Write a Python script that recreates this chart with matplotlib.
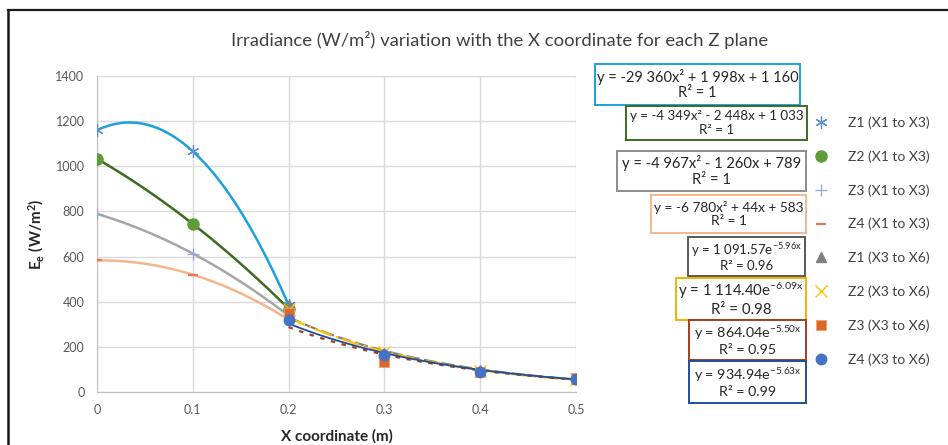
import numpy as np
import matplotlib
matplotlib.use("Agg")
import matplotlib.pyplot as plt
from matplotlib.lines import Line2D
from matplotlib.patches import Rectangle

plt.rcParams['font.family'] = ['Lato', 'DejaVu Sans']
plt.rcParams['mathtext.fontset'] = 'custom'
plt.rcParams['mathtext.rm'] = 'Lato'
plt.rcParams['mathtext.it'] = 'Lato'
plt.rcParams['mathtext.bf'] = 'Lato:bold'

# ---------------- data ----------------
x_a = [0.0, 0.1, 0.2]          # X1 to X3
x_b = [0.2, 0.3, 0.4, 0.5]     # X3 to X6

z1_a = [1160, 1066, 385]
z2_a = [1033, 745, 369]
z3_a = [789, 613, 338]
z4_a = [583, 520, 321]

z1_b = [385, 172, 96, 58]
z2_b = [369, 176, 93, 58]
z3_b = [352, 135, 88, 60]
z4_b = [320, 164, 88, 58]

labels = ['Z1 (X1 to X3)', 'Z2 (X1 to X3)', 'Z3 (X1 to X3)', 'Z4 (X1 to X3)',
          'Z1 (X3 to X6)', 'Z2 (X3 to X6)', 'Z3 (X3 to X6)', 'Z4 (X3 to X6)']

# trendline coefficients (as displayed)
poly_coef = [(-29360, 1998, 1160), (-4349, -2448, 1033),
             (-4967, -1260, 789), (-6780, 44, 583)]
exp_coef = [(1091.57, -5.96), (1114.40, -6.09), (864.04, -5.50), (934.94, -5.63)]

eq_texts = ['y = -29 360x² + 1 998x + 1 160\nR² = 1',
            'y = -4 349x² - 2 448x + 1 033\nR² = 1',
            'y = -4 967x² - 1 260x + 789\nR² = 1',
            'y = -6 780x² + 44x + 583\nR² = 1',
            'y = 1 091.57e$^{-5.96x}$\nR² = 0.96',
            'y = 1 114.40e$^{-6.09x}$\nR² = 0.98',
            'y = 864.04e$^{-5.50x}$\nR² = 0.95',
            'y = 934.94e$^{-5.63x}$\nR² = 0.99']

# ---------------- styles ----------------
W, H = 948, 445
fig = plt.figure(figsize=(W / 100, H / 100), dpi=100)
ax = fig.add_axes([97 / W, 1 - 392 / H, (576 - 97) / W, (392 - 76) / H])

poly_colors = ['#1aa1de', '#3d6b1f', '#a6a6a6', '#f4b58c']
exp_colors = ['#7f7f7f', '#ffc000', '#a33d1f', '#1f4e99']
exp_styles = [(0, (6, 2)), (0, (8, 2, 1, 2)), (0, (2, 3)), '-']
box_colors = ['#1aa1de', '#3d6b1f', '#8c8c8c', '#f4b58c',
              '#595959', '#f0b400', '#a33d1f', '#1f4e99']

# trendlines
xp = np.linspace(0, 0.2, 100)
for (a, b, c), col in zip(poly_coef, poly_colors):
    ax.plot(xp, a * xp**2 + b * xp + c, color=col, lw=1.8, zorder=3)
xe = np.linspace(0.2, 0.5, 100)
for (a, k), col, ls in zip(exp_coef, exp_colors, exp_styles):
    ax.plot(xe, a * np.exp(k * xe), color=col, lw=1.6 if ls != '-' else 1.3,
            ls=ls, zorder=3)

handles = []
handles.append(ax.plot(x_a, z1_a, ls='none', marker=(6, 2, 0), ms=9, mec='#5b8fd0', mew=0.9, zorder=4)[0])
handles.append(ax.plot(x_a, z2_a, ls='none', marker='o', ms=8, mfc='#5f9b3a', mec='#5f9b3a', zorder=4)[0])
handles.append(ax.plot(x_a, z3_a, ls='none', marker='+', ms=9, mec='#8ea8d8', mew=0.9, zorder=4)[0])
handles.append(ax.plot(x_a, z4_a, ls='none', marker='_', ms=7, mec='#e8745a', mew=1.6, zorder=4)[0])
handles.append(ax.plot(x_b, z1_b, ls='none', marker='^', ms=7, mfc='#7f7f7f', mec='#7f7f7f', zorder=4)[0])
handles.append(ax.plot(x_b, z2_b, ls='none', marker='x', ms=8, mec='#ffc000', mew=1.0, zorder=4)[0])
handles.append(ax.plot(x_b, z3_b, ls='none', marker='s', ms=7.5, mfc='#d9692a', mec='#f2a06a', mew=0.6, zorder=4)[0])
handles.append(ax.plot(x_b, z4_b, ls='none', marker='o', ms=7.5, mfc='#4472c4', mec='#4472c4', zorder=5)[0])

ax.set_xlim(0, 0.5)
ax.set_ylim(0, 1400)
ax.set_xticks([0, 0.1, 0.2, 0.3, 0.4, 0.5])
ax.set_xticklabels(['0', '0.1', '0.2', '0.3', '0.4', '0.5'])
ax.set_yticks(range(0, 1401, 200))
ax.grid(True, color='#d9d9d9', lw=1.0)
ax.set_axisbelow(True)
for s in ['top', 'right']:
    ax.spines[s].set_visible(False)
for s in ['left', 'bottom']:
    ax.spines[s].set_color('#bfbfbf')
ax.tick_params(length=0, colors='#595959', labelsize=9, pad=9)

ax.set_xlabel('X coordinate (m)', fontsize=11, fontweight='bold', color='#262626', labelpad=9)
ax.set_ylabel(r'$\mathbf{E_e}$ $\mathbf{(W/m^2)}$', fontsize=11, color='#262626', labelpad=7)

fig.text(500 / W, 1 - 40 / H, 'Irradiance (W/m²) variation with the X coordinate for each Z plane',
         ha='center', va='center', fontsize=13.3, color='#404040')

# equation boxes (pixel geometry: x0, y0, x1, y1, fontsize)
boxes = [(595, 64, 800, 105, 10.5), (626, 106, 807, 140, 9.6),
         (617, 151, 806, 191, 10.6), (651, 195, 806, 233, 9.8),
         (688, 237, 805, 276, 9.5), (676, 278, 806, 320, 10.8),
         (689, 320, 806, 360, 10.3), (689, 361, 806, 403, 10.3)]
for (x0, y0, x1, y1, fs), txt, col in zip(boxes, eq_texts, box_colors):
    fig.patches.append(Rectangle((x0 / W, 1 - y1 / H), (x1 - x0) / W, (y1 - y0) / H,
                                 transform=fig.transFigure, fill=True, fc='white',
                                 ec=col, lw=1.4, zorder=5))
    fig.text((x0 + x1) / 2 / W, 1 - (y0 + y1) / 2 / H, txt, ha='center', va='center',
             fontsize=fs, color='#262626', linespacing=1.15, zorder=6)

leg = fig.legend(handles, labels, loc='upper left', bbox_to_anchor=(798 / W, 1 - 104 / H),
                 frameon=False, fontsize=10, labelspacing=1.53, handletextpad=1.2,
                 handlelength=1.5, labelcolor='#404040')

# outer border (top and left)
fig.add_artist(Line2D([8 / W, 1], [1 - 10 / H, 1 - 10 / H], color='#1a1a1a', lw=1.6,
                      transform=fig.transFigure))
fig.add_artist(Line2D([8 / W, 8 / W], [0, 1 - 10 / H], color='#1a1a1a', lw=1.8,
                      transform=fig.transFigure))

fig.savefig('out.png', dpi=100)
